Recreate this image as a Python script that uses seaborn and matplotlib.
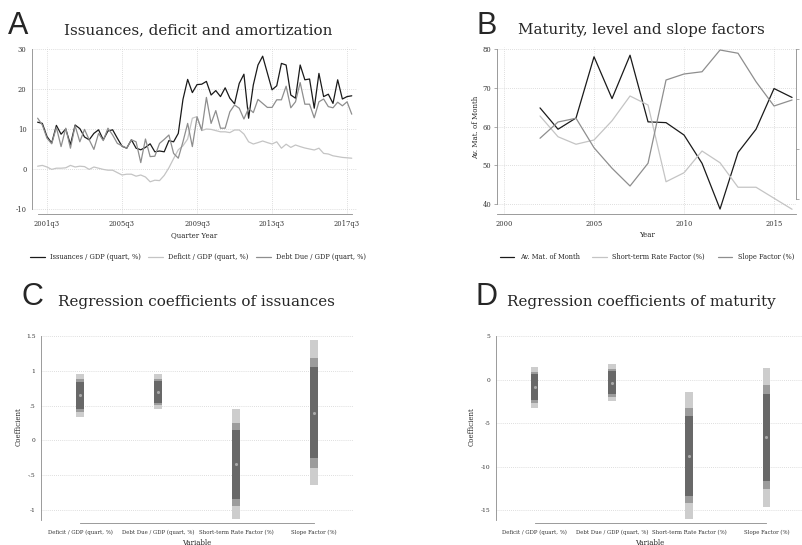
import numpy as np
import pandas as pd
import matplotlib
matplotlib.use("Agg")
import matplotlib.pyplot as plt
import seaborn as sns

# ---------------- DATA ----------------
years_q = list(range(2001, 2018))
quarters = [1, 2, 3, 4]
periods = [(y, q) for y in years_q for q in quarters]
xq_ticks = [2001, 2005, 2009, 2013, 2017]
xq_labels = ["2001q3", "2005q3", "2009q3", "2013q3", "2017q3"]

issuances = [11.7, 11.4, 8.1, 6.5, 10.9, 8.7, 10.0, 6.1, 11.0, 10.1,
             8.0, 7.3, 8.9, 9.8, 7.3, 9.5, 9.8, 7.7, 5.7, 5.2,
             7.3, 5.2, 4.8, 5.4, 6.3, 4.3, 4.5, 4.3, 7.1, 6.8,
             8.9, 17.4, 22.4, 19.1, 21.1, 21.2, 21.9, 18.5, 19.6, 18.1,
             20.3, 17.7, 16.3, 21.4, 23.7, 12.7, 21.0, 26.0, 28.2, 24.0,
             19.8, 20.8, 26.4, 26.0, 18.5, 17.7, 26.0, 22.3, 22.5, 15.2,
             23.9, 18.1, 18.7, 16.4, 22.3, 17.5, 18.1, 18.3]
deficit = [0.7, 0.9, 0.5, -0.1, 0.2, 0.2, 0.3, 0.9, 0.5, 0.7,
           0.6, -0.1, 0.5, 0.2, -0.1, -0.3, -0.3, -0.9, -1.5, -1.3,
           -1.3, -1.8, -1.5, -2.0, -3.2, -2.8, -2.9, -1.6, 0.3, 2.6,
           4.8, 5.8, 7.5, 12.7, 13.1, 9.6, 10.0, 9.9, 9.6, 9.3,
           9.3, 9.1, 9.75, 9.75, 8.75, 6.8, 6.25, 6.6, 7.0, 6.6,
           6.25, 6.8, 5.2, 6.2, 5.4, 6.0, 5.6, 5.25, 5.0, 4.75,
           5.2, 3.9, 3.75, 3.3, 3.1, 2.9, 2.8, 2.7]
debt_due = [12.7, 11.0, 7.7, 6.3, 10.4, 5.6, 10.2, 5.2, 10.8, 6.8,
            9.9, 7.3, 4.9, 8.9, 7.1, 10.2, 8.5, 6.4, 5.8, 5.2,
            7.3, 6.8, 1.6, 7.5, 3.1, 3.2, 6.4, 7.4, 8.5, 3.9,
            2.7, 6.8, 11.4, 5.6, 13.0, 9.7, 17.9, 11.4, 14.6, 10.2,
            10.2, 14.3, 16.0, 15.2, 12.5, 15.2, 14.1, 17.4, 16.4, 15.4,
            15.4, 17.3, 17.3, 20.7, 15.3, 16.8, 21.6, 16.2, 16.2, 12.8,
            16.8, 17.5, 15.6, 15.3, 16.7, 15.8, 16.8, 13.7]

years_b = list(range(2002, 2017))
maturity = [64.8, 59.3, 62.2, 78.0, 67.2, 78.4, 61.2, 61.0, 57.8, 50.5,
            38.7, 53.3, 59.3, 69.8, 67.5]
short_rate = [3.32, 2.49, 2.19, 2.36, 3.13, 4.12, 3.76, 0.69, 1.05, 1.92,
              1.45, 0.47, 0.47, 0.03, -0.41]
slope = [2.43, 3.08, 3.23, 2.05, 1.23, 0.52, 1.43, 4.76, 5.00, 5.09,
         5.96, 5.83, 4.69, 3.72, 3.96]

variables = ["Deficit / GDP (quart, %)", "Debt Due / GDP (quart, %)",
             "Short-term Rate Factor (%)", "Slope Factor (%)"]
c_point = [0.65, 0.70, -0.345, 0.40]
c_lo90 = [0.455, 0.54, -0.84, -0.26]
c_hi90 = [0.843, 0.857, 0.15, 1.06]
c_lo95 = [0.41, 0.51, -0.94, -0.39]
c_hi95 = [0.88, 0.88, 0.25, 1.19]
c_lo99 = [0.34, 0.45, -1.135, -0.64]
c_hi99 = [0.958, 0.95, 0.445, 1.44]

d_point = [-0.9, -0.40, -8.76, -6.65]
d_lo90 = [-2.36, -1.7, -13.39, -11.63]
d_hi90 = [0.59, 0.94, -4.16, -1.67]
d_lo95 = [-2.66, -2.0, -14.2, -12.6]
d_hi95 = [0.9, 1.25, -3.24, -0.67]
d_lo99 = [-3.24, -2.47, -16.05, -14.6]
d_hi99 = [1.47, 1.74, -1.48, 1.36]

# ---------------- STYLE ----------------
sns.set_theme(style="white")
plt.rcParams['font.family'] = ['DejaVu Serif']
W, H = 803, 545
fig = plt.figure(figsize=(W / 100, H / 100), dpi=100)
fig.patch.set_facecolor("white")

BLACK = "#1a1a1a"
LIGHT = "#c4c4c4"
MID = "#8e8e8e"
SPINE = "#8a8a8a"
GRID = "#d4d4d4"
TICKFS = 4.9
TITLEFS = 10.9


def add_ax(l, r, t, b):
    return fig.add_axes([l / W, 1 - b / H, (r - l) / W, (b - t) / H])


def style_ax(ax):
    for s in ["top", "right"]:
        ax.spines[s].set_visible(False)
    for s in ["left", "bottom"]:
        ax.spines[s].set_color(SPINE)
        ax.spines[s].set_linewidth(0.6)
    ax.tick_params(axis="both", direction="out", length=2.5, width=0.5,
                   color=SPINE, labelsize=TICKFS, pad=1.5, labelcolor="#333333")
    ax.set_facecolor("white")
    ax.grid(True, color=GRID, linestyle=(0, (1, 1.5)), linewidth=0.6)
    ax.set_xlabel("")
    ax.set_ylabel("")


def fig_text(x, y, s, **kw):
    fig.text(x / W, 1 - y / H, s, **kw)


# ---------------- PANEL A ----------------
axA = add_ax(32, 357, 47, 214)
tq = [y + (q - 1) / 4 for (y, q) in periods]
dfA = pd.DataFrame({"t": tq, "iss": issuances, "def": deficit, "due": debt_due})
sns.lineplot(data=dfA, x="t", y="iss", ax=axA, color=BLACK, lw=0.9,
             label="Issuances / GDP (quart, %)", legend=False)
sns.lineplot(data=dfA, x="t", y="def", ax=axA, color=LIGHT, lw=0.9,
             label="Deficit / GDP (quart, %)", legend=False)
sns.lineplot(data=dfA, x="t", y="due", ax=axA, color=MID, lw=0.9,
             label="Debt Due / GDP (quart, %)", legend=False)
axA.set_xlim(2000.70, 2018.03)
axA.set_ylim(-11.25, 30.5)
style_ax(axA)
axA.set_xticks([x + 0.5 for x in xq_ticks])
axA.set_xticklabels(xq_labels)
axA.set_yticks([-10, 0, 10, 20, 30])
axA.set_yticklabels(["-10", "0", "10", "20", "30"])
axA.spines["left"].set_bounds(-10, 30)
axA.spines["bottom"].set_bounds(2001.0, 2017.75)
hA, lA = axA.get_legend_handles_labels()
fig.legend(hA, lA, loc="center", bbox_to_anchor=(198 / W, 1 - 257 / H), ncol=3,
           frameon=False, fontsize=4.8, handlelength=2.2, columnspacing=1.1,
           handletextpad=0.8)
fig_text(194, 235, "Quarter Year", ha="center", va="center", fontsize=5)
fig_text(198, 34, "Issuances, deficit and amortization", ha="center",
         va="baseline", fontsize=TITLEFS)
fig_text(8, 34, "A", ha="left", va="baseline", fontsize=22,
         family="Liberation Sans")

# ---------------- PANEL B ----------------
axB = add_ax(497, 796, 47, 214)
dfB = pd.DataFrame({"year": years_b, "mat": maturity, "sr": short_rate, "sl": slope})
sns.lineplot(data=dfB, x="year", y="mat", ax=axB, color=BLACK, lw=0.9,
             label="Av. Mat. of Month", legend=False)
axB.set_xlim(1999.61, 2016.22)
axB.set_ylim(37.42, 80.52)
style_ax(axB)
axB.set_xticks([2000, 2005, 2010, 2015])
axB.set_yticks([40, 50, 60, 70, 80])
axB.spines["left"].set_bounds(40, 80)
axB2 = axB.twinx()
sns.lineplot(data=dfB, x="year", y="sr", ax=axB2, color=LIGHT, lw=0.9,
             label="Short-term Rate Factor (%)", legend=False)
sns.lineplot(data=dfB, x="year", y="sl", ax=axB2, color=MID, lw=0.9,
             label="Slope Factor (%)", legend=False)
axB2.set_ylim(-0.6, 6.08)
for s in ["top", "left", "bottom"]:
    axB2.spines[s].set_visible(False)
axB2.spines["right"].set_color(SPINE)
axB2.spines["right"].set_linewidth(0.6)
axB2.spines["right"].set_bounds(0, 6)
axB2.set_yticks([0, 2, 4, 6])
axB2.tick_params(axis="y", direction="out", length=2.5, width=0.5, color=SPINE,
                 labelsize=TICKFS, pad=1.5, labelcolor="#333333")
axB2.set_ylabel("")
axB2.grid(False)
hB1, lB1 = axB.get_legend_handles_labels()
hB2, lB2 = axB2.get_legend_handles_labels()
fig.legend(hB1 + hB2, lB1 + lB2, loc="center", bbox_to_anchor=(647 / W, 1 - 257 / H),
           ncol=3, frameon=False, fontsize=4.8, handlelength=2.2,
           columnspacing=1.9, handletextpad=0.8)
fig_text(647, 235, "Year", ha="center", va="center", fontsize=5)
fig_text(476, 127, "Av. Mat. of Month", ha="center", va="center", fontsize=5,
         rotation=90)
fig_text(641, 34, "Maturity, level and slope factors", ha="center",
         va="baseline", fontsize=TITLEFS)
fig_text(477, 34, "B", ha="left", va="baseline", fontsize=22,
         family="Liberation Sans")

# ---------------- PANELS C, D ----------------
C_LIGHT = "#cdcdcd"
C_MID = "#9c9c9c"
C_DARK = "#686868"


def coef_panel(ax, point, lo90, hi90, lo95, hi95, lo99, hi99, width):
    pos = list(range(len(variables)))
    for lo, hi, col in [(lo99, hi99, C_LIGHT), (lo95, hi95, C_MID), (lo90, hi90, C_DARK)]:
        ax.bar(pos, [h - l for l, h in zip(lo, hi)], bottom=lo, width=width,
               color=col, linewidth=0, zorder=3)
    dfp = pd.DataFrame({"pos": pos, "coef": point})
    sns.scatterplot(data=dfp, x="pos", y="coef", ax=ax, color="#a8a8a8", s=5,
                    marker="o", linewidth=0, zorder=4)
    ax.set_xlim(-0.5, 3.5)
    style_ax(ax)
    ax.xaxis.grid(False)
    ax.set_xticks(pos)
    ax.set_xticklabels(variables, fontsize=3.9)
    ax.tick_params(axis="x", pad=2.2, length=3)
    ax.spines["bottom"].set_bounds(0, 3)


axC = add_ax(41, 353, 334, 523)
coef_panel(axC, c_point, c_lo90, c_hi90, c_lo95, c_hi95, c_lo99, c_hi99, 0.095)
axC.set_ylim(-1.187, 1.529)
axC.set_yticks([-1, -0.5, 0, 0.5, 1, 1.5])
axC.set_yticklabels(["-1", "-.5", "0", ".5", "1", "1.5"], fontsize=4.2)
axC.spines["left"].set_bounds(-1.15, 1.5)
fig_text(197, 539, "Variable", ha="center", va="top", fontsize=5)
fig_text(19, 427, "Coefficient", ha="center", va="center", fontsize=5, rotation=90)
fig_text(196, 306, "Regression coefficients of issuances", ha="center",
         va="baseline", fontsize=TITLEFS)
fig_text(22, 305, "C", ha="left", va="baseline", fontsize=22,
         family="Liberation Sans")

axD = add_ax(496, 805, 334, 523)
coef_panel(axD, d_point, d_lo90, d_hi90, d_lo95, d_hi95, d_lo99, d_hi99, 0.1)
axD.set_xlim(-0.5, 3.5)
axD.set_ylim(-16.49, 5.23)
axD.set_yticks([-15, -10, -5, 0, 5])
axD.set_yticklabels(["-15", "-10", "-5", "0", "5"], fontsize=4.2)
axD.spines["left"].set_bounds(-16.2, 5)
fig_text(650, 539, "Variable", ha="center", va="top", fontsize=5)
fig_text(472, 427, "Coefficient", ha="center", va="center", fontsize=5, rotation=90)
fig_text(641, 306, "Regression coefficients of maturity", ha="center",
         va="baseline", fontsize=TITLEFS)
fig_text(476, 305, "D", ha="left", va="baseline", fontsize=22,
         family="Liberation Sans")

fig.savefig("out.png", dpi=100, facecolor="white")
